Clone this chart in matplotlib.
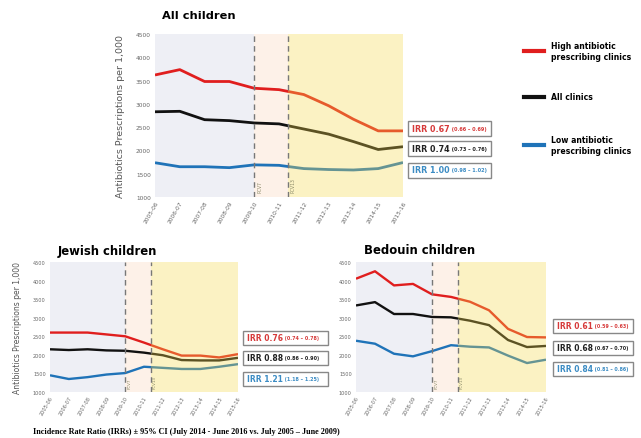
import numpy as np
import matplotlib.pyplot as plt
from matplotlib.patches import Rectangle
from matplotlib.text import Annotation

W, H = 641, 439

years = ['2005-06', '2006-07', '2007-08', '2008-09', '2009-10', '2010-11',
         '2011-12', '2012-13', '2013-14', '2014-15', '2015-16']

# All children
all_high = [3620, 3735, 3480, 3480, 3335, 3305, 3200, 2960, 2670, 2420, 2420]
all_all = [2830, 2840, 2660, 2640, 2590, 2570, 2460, 2350, 2190, 2020, 2080]
all_low = [1736, 1650, 1650, 1630, 1690, 1680, 1610, 1590, 1580, 1610, 1740]

# Jewish children
jew_high = [2600, 2600, 2600, 2550, 2500, 2330, 2150, 1980, 1980, 1930, 2020]
jew_all = [2150, 2130, 2150, 2120, 2110, 2060, 1990, 1860, 1850, 1850, 1920]
jew_low = [1450, 1350, 1400, 1470, 1510, 1680, 1650, 1620, 1620, 1680, 1750]

# Bedouin children
bed_high = [4050, 4250, 3870, 3910, 3630, 3560, 3430, 3200, 2700, 2480, 2470]
bed_all = [3330, 3420, 3100, 3100, 3020, 3010, 2920, 2800, 2400, 2210, 2240]
bed_low = [2380, 2300, 2030, 1960, 2100, 2260, 2220, 2200, 1980, 1780, 1870]

irr_all = [('IRR 0.67', '(0.66 \u2013 0.69)'), ('IRR 0.74', '(0.73 \u2013 0.76)'),
           ('IRR 1.00', '(0.98 \u2013 1.02)')]
irr_jew = [('IRR 0.76', '(0.74 \u2013 0.78)'), ('IRR 0.88', '(0.86 \u2013 0.90)'),
           ('IRR 1.21', '(1.18 \u2013 1.25)')]
irr_bed = [('IRR 0.61', '(0.59 \u2013 0.63)'), ('IRR 0.68', '(0.67 \u2013 0.70)'),
           ('IRR 0.84', '(0.81 \u2013 0.86)')]

legend_labels = ['High antibiotic\nprescribing clinics', 'All clinics',
                 'Low antibiotic\nprescribing clinics']

RED, BLACK, BLUE = '#e01e1e', '#111111', '#1f73b8'
TXT_COLORS = ['#d63a3a', '#222222', '#3c8cc4']

fig = plt.figure(figsize=(W / 100, H / 100), dpi=100)


def rect_px(l, t, r, b):
    return [l / W, 1 - b / H, (r - l) / W, (b - t) / H]


def panel(rect, high, allc, low, title, title_x, title_y, title_fs, lw, tfs, ylfs):
    ax = fig.add_axes(rect)
    x = np.arange(len(years))
    ax.axvspan(0, 4, color='#eeeff5', zorder=0, lw=0)
    ax.axvspan(4, 5.35, color='#fdf1e8', zorder=0, lw=0)
    ax.plot(x, high, color=RED, lw=lw, zorder=2, solid_capstyle='butt')
    ax.plot(x, allc, color=BLACK, lw=lw, zorder=2, solid_capstyle='butt')
    ax.plot(x, low, color=BLUE, lw=lw, zorder=2, solid_capstyle='butt')
    ax.axvspan(5.35, 10, color='#f5d84a', alpha=0.33, zorder=3, lw=0)
    for xv in (4, 5.35):
        ax.axvline(xv, color='#777777', ls=(0, (4, 3)), lw=1.0, zorder=4)
    ax.text(4.12, 1100, 'PCV7', rotation=90, fontsize=tfs * 0.8, color='#888866',
            va='bottom', ha='left', zorder=5)
    ax.text(5.47, 1100, 'PCV13', rotation=90, fontsize=tfs * 0.8, color='#888866',
            va='bottom', ha='left', zorder=5)
    ax.set_xlim(0, 10)
    ax.set_ylim(1000, 4500)
    ax.set_yticks(np.arange(1000, 4501, 500))
    ax.set_xticks(x)
    ax.set_xticklabels(years, rotation=60, ha='right', rotation_mode='anchor',
                       fontsize=tfs, color='#666666')
    ax.tick_params(axis='y', labelsize=tfs, labelcolor='#666666', length=0, pad=3)
    ax.tick_params(axis='x', length=0, pad=2)
    for s in ax.spines.values():
        s.set_visible(False)
    if ylfs:
        ax.set_ylabel('Antibiotics Prescriptions per 1,000', fontsize=ylfs,
                      color='#555555', labelpad=8)
    fig.text(title_x / W, 1 - title_y / H, title, fontsize=title_fs, fontweight='bold',
             ha='left', va='center', family='DejaVu Sans')
    return ax


def irr_boxes(items, l, r, centers, h, fs1, fs2):
    for (main, ci), cy, col in zip(items, centers, TXT_COLORS):
        fig.add_artist(Rectangle((l / W, 1 - (cy + h / 2) / H), (r - l) / W, h / H,
                                 transform=fig.transFigure, facecolor='white',
                                 edgecolor='#888888', lw=1.0, zorder=4))
        t = fig.text((l + 4) / W, 1 - cy / H, main, fontsize=fs1, fontweight='bold',
                     color=col, ha='left', va='center', zorder=5)
        fig.add_artist(Annotation(' ' + ci, xy=(1, 0.5), xycoords=t, fontsize=fs2,
                                  fontweight='bold', color=col, ha='left',
                                  va='center', zorder=5))


panel(rect_px(155, 35, 403, 198), all_high, all_all, all_low, 'All children',
      162, 16, 8.2, 2.0, 4.2, 6.8)
panel(rect_px(50, 263, 238, 393), jew_high, jew_all, jew_low, 'Jewish children',
      58, 252, 8.4, 1.7, 3.6, 5.5)
panel(rect_px(356, 263, 546, 393), bed_high, bed_all, bed_low, 'Bedouin children',
      364, 251, 8.4, 1.7, 3.6, None)

irr_boxes(irr_all, 408, 491, [129, 149.5, 171], 15, 5.8, 3.6)
irr_boxes(irr_jew, 243, 328, [338.5, 358.5, 379.5], 14, 5.5, 3.5)
irr_boxes(irr_bed, 553, 633, [326.5, 349, 370], 14, 5.5, 3.4)

# legend
for lab, col, cy in zip(legend_labels, [RED, BLACK, BLUE], [52, 98, 146]):
    fig.add_artist(plt.Line2D([524 / W, 544 / W], [1 - cy / H, 1 - cy / H],
                              color=col, lw=3, transform=fig.transFigure))
    fig.text(551 / W, 1 - cy / H, lab, fontsize=5.6, fontweight='bold', ha='left',
             va='center', linespacing=1.2)

fig.text(33 / W, 1 - 432 / H,
         'Incidence Rate Ratio (IRRs) \u00b1 95% CI (July 2014 - June 2016 vs. July 2005 \u2013 June 2009)',
         fontsize=5.9, fontweight='bold', family='Liberation Serif', ha='left', va='center')

fig.savefig('out.png', dpi=100)
